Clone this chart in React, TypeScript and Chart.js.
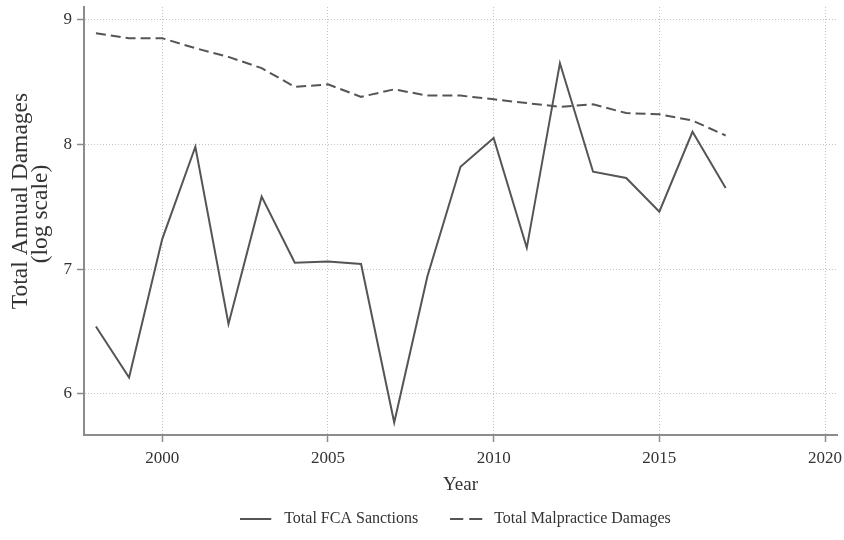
import React, { useEffect, useRef } from "react";
import { Chart, registerables } from "chart.js";

Chart.register(...registerables);

// Annual totals, natural log of dollars
const years = [1998, 1999, 2000, 2001, 2002, 2003, 2004, 2005, 2006, 2007, 2008, 2009, 2010, 2011, 2012, 2013, 2014, 2015, 2016, 2017];
const fcaSanctions = [6.54, 6.13, 7.24, 7.98, 6.56, 7.58, 7.05, 7.06, 7.04, 5.77, 6.94, 7.82, 8.05, 7.17, 8.65, 7.78, 7.73, 7.46, 8.10, 7.65];
const malpracticeDamages = [8.89, 8.85, 8.85, 8.77, 8.70, 8.61, 8.46, 8.48, 8.38, 8.44, 8.39, 8.39, 8.36, 8.33, 8.30, 8.32, 8.25, 8.24, 8.19, 8.07];

const seriesLabels = ["Total FCA Sanctions", "Total Malpractice Damages"];
const xTicks = [2000, 2005, 2010, 2015, 2020];
const yTicks = [6, 7, 8, 9];
const yTitleLines = ["Total Annual Damages", "(log scale)"];
const xTitle = "Year";

const SERIF = "'Liberation Serif', 'Times New Roman', serif";
const LINE = "#555555";
const TEXT = "#333333";
const AXIS = "#8c8c8c";
const GRID = "#c4c4c4";
const LEGEND_HEIGHT = 61;
const LEGEND_SHIFT = 37;
const KEY_BOX = 36;

// Rotated two-line title on the left of the value axis
const yTitlePlugin = {
  id: "yTitle",
  afterDraw(chart: any) {
    const { ctx } = chart;
    ctx.save();
    ctx.fillStyle = TEXT;
    ctx.font = `23.5px ${SERIF}`;
    ctx.textAlign = "center";
    ctx.textBaseline = "middle";
    const pos = [
      [21, 201],
      [41, 214],
    ];
    yTitleLines.forEach((line, i) => {
      ctx.save();
      ctx.translate(pos[i][0], pos[i][1]);
      ctx.rotate(-Math.PI / 2);
      ctx.fillText(line, 0, 0);
      ctx.restore();
    });
    ctx.restore();
  },
};

// Legend: wide item spacing without a tall box, centred under the plot
const legendLayoutPlugin = {
  id: "legendLayout",
  afterInit(chart: any) {
    const legend = chart.legend;
    if (!legend) return;
    const fit = legend.fit.bind(legend);
    legend.fit = () => {
      fit();
      legend.height = LEGEND_HEIGHT;
    };
  },
  afterLayout(chart: any) {
    const legend = chart.legend;
    if (!legend) return;
    legend.left += LEGEND_SHIFT;
    legend.right += LEGEND_SHIFT;
  },
};

// Line sample for a legend key, drawn on a small canvas
function keySample(dash: number[], length: number) {
  const c = document.createElement("canvas");
  c.width = KEY_BOX;
  c.height = 4;
  const g = c.getContext("2d")!;
  g.strokeStyle = LINE;
  g.lineWidth = 2;
  g.setLineDash(dash);
  g.beginPath();
  g.moveTo(0, 2);
  g.lineTo(length, 2);
  g.stroke();
  return c;
}

export default function App() {
  const canvasRef = useRef<HTMLCanvasElement | null>(null);

  useEffect(() => {
    if (!canvasRef.current) return;
    const samples = [keySample([], 31), keySample([13, 6], 32)];
    const chart = new Chart(canvasRef.current, {
      type: "line",
      data: {
        datasets: [
          {
            label: seriesLabels[0],
            data: years.map((y, i) => ({ x: y, y: fcaSanctions[i] })),
            borderColor: LINE,
            borderWidth: 2,
            pointRadius: 0,
            tension: 0,
          },
          {
            label: seriesLabels[1],
            data: years.map((y, i) => ({ x: y, y: malpracticeDamages[i] })),
            borderColor: LINE,
            borderWidth: 2,
            borderDash: [10, 5],
            pointRadius: 0,
            tension: 0,
          },
        ],
      },
      options: {
        responsive: false,
        animation: false,
        layout: { padding: { left: 0, right: 7, top: 7, bottom: 0 } },
        scales: {
          x: {
            type: "linear",
            min: 1997.64,
            max: 2020.36,
            afterBuildTicks: (scale: any) => {
              scale.ticks = xTicks.map((v) => ({ value: v }));
            },
            afterFit: (scale: any) => {
              scale.height = 44;
              scale.paddingLeft = 0;
              scale.paddingRight = 0;
            },
            ticks: {
              color: TEXT,
              font: { family: SERIF, size: 17 },
              padding: 6,
              maxRotation: 0,
              callback: (v: any) => String(v),
            },
            grid: {
              color: GRID,
              lineWidth: 1,
              tickLength: 7,
              tickColor: AXIS,
              tickWidth: 1.5,
            },
            border: { display: true, color: AXIS, width: 2, dash: [1, 2] },
            title: {
              display: true,
              text: xTitle,
              color: TEXT,
              font: { family: SERIF, size: 19 },
              padding: { top: 0, bottom: -17 },
            },
          },
          y: {
            type: "linear",
            min: 5.67,
            max: 9.1,
            afterBuildTicks: (scale: any) => {
              scale.ticks = yTicks.map((v) => ({ value: v }));
            },
            afterFit: (scale: any) => {
              scale.width = 84;
              scale.paddingTop = 0;
              scale.paddingBottom = 0;
            },
            ticks: {
              color: TEXT,
              font: { family: SERIF, size: 17 },
              padding: 5,
              callback: (v: any) => String(v),
            },
            grid: {
              color: GRID,
              lineWidth: 1,
              tickLength: 7,
              tickColor: AXIS,
              tickWidth: 1.5,
            },
            border: { display: true, color: AXIS, width: 2, dash: [1, 2] },
          },
        },
        plugins: {
          tooltip: { enabled: false },
          legend: {
            position: "bottom",
            labels: {
              color: TEXT,
              font: { family: SERIF, size: 16 },
              padding: 32,
              usePointStyle: true,
              pointStyleWidth: KEY_BOX,
              generateLabels: (c: any) => {
                const items = Chart.defaults.plugins.legend.labels.generateLabels(c);
                return items.map((it: any, i: number) => ({
                  ...it,
                  pointStyle: samples[i],
                }));
              },
            },
          },
        },
      },
      plugins: [yTitlePlugin, legendLayoutPlugin],
    });
    return () => chart.destroy();
  }, []);

  return (
    <div style={{ position: "fixed", left: 0, top: 0, width: 844, height: 540, background: "#ffffff" }}>
      <canvas ref={canvasRef} width={844} height={540} style={{ display: "block" }} />
    </div>
  );
}
